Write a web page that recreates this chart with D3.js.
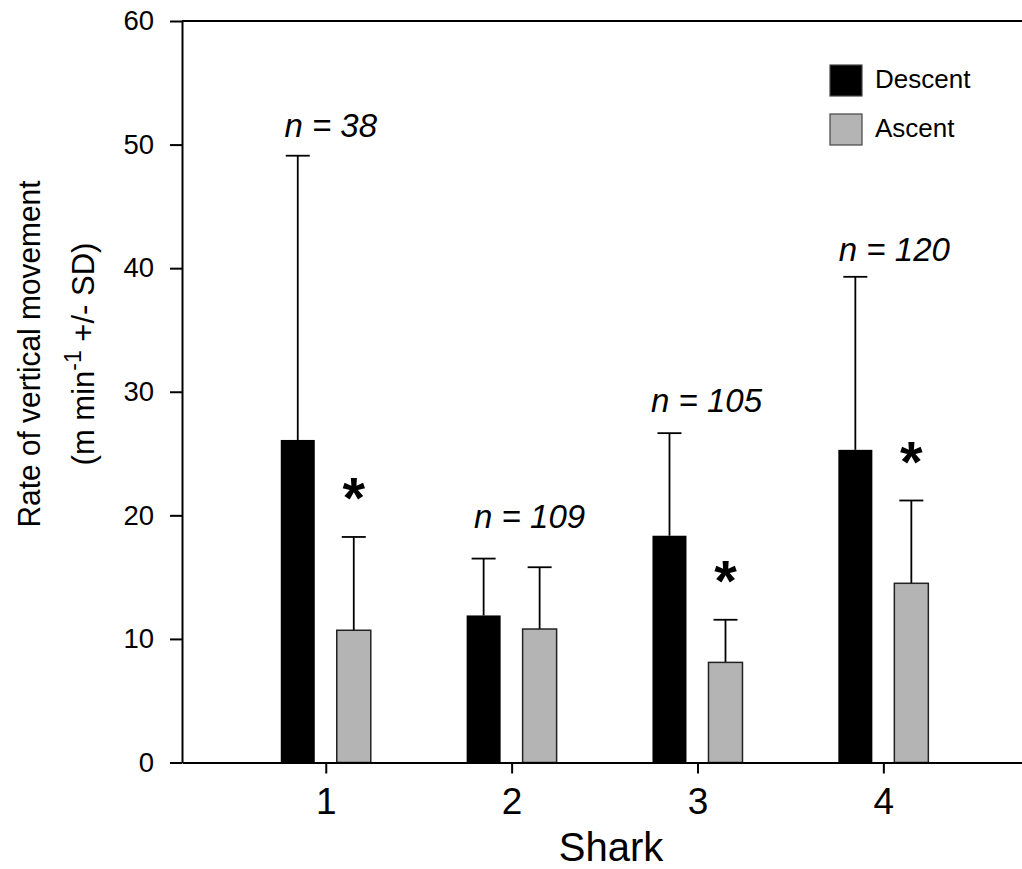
<!DOCTYPE html>
<html>
<head>
<meta charset="utf-8">
<script src="https://cdn.jsdelivr.net/npm/d3@7"></script>
<style>
  html, body { margin: 0; padding: 0; background: #fff; }
  svg { display: block; font-family: "Liberation Sans", Arial, Helvetica, sans-serif; }
</style>
</head>
<body>
<svg id="chart" width="1022" height="869"></svg>
<script>
// ---- data ----
const sharks = [1, 2, 3, 4];
const descentMean = [26.1, 11.9, 18.35, 25.3];
const descentSD   = [23.0, 4.6, 8.3, 14.0];
const ascentMean  = [10.7, 10.8, 8.1, 14.5];
const ascentSD    = [7.55, 5.0, 3.45, 6.7];
const sampleN     = [38, 109, 105, 120];
const nLabelValue = [50.6, 18.95, 28.4, 40.6];
const significant = [true, false, true, true];
const yTicks = [0, 10, 20, 30, 40, 50, 60];
const seriesNames = ["Descent", "Ascent"];

// ---- layout ----
const svg = d3.select("#chart");
const plotLeft = 182, plotRight = 1022, plotTop = 21, plotBottom = 762.5;
const x = d3.scaleLinear().domain([0.2265, 4.746]).range([plotLeft, plotRight]);
const y = d3.scaleLinear().domain([0, 60]).range([plotBottom, plotTop]);
const barW = 34, barOff = 28;
const capHalf = 12;
const nLabelDx = [5, 18, 9, 11];
const colors = { Descent: "#000000", Ascent: "#b4b4b4" };

const rows = sharks.map((s, i) => ({
  shark: s,
  vals: [
    { key: "Descent", mean: descentMean[i], sd: descentSD[i], dx: -barOff },
    { key: "Ascent",  mean: ascentMean[i],  sd: ascentSD[i],  dx: barOff }
  ],
  n: sampleN[i], nv: nLabelValue[i], sig: significant[i], ndx: nLabelDx[i]
}));

// error bars (draw first, bars on top)
const g = svg.append("g");
rows.forEach(r => {
  r.vals.forEach(v => {
    const cx = x(r.shark) + v.dx;
    g.append("line").attr("x1", cx).attr("x2", cx)
      .attr("y1", y(v.mean)).attr("y2", y(v.mean + v.sd))
      .attr("stroke", "#000").attr("stroke-width", 1.8);
    g.append("line").attr("x1", cx - capHalf).attr("x2", cx + capHalf)
      .attr("y1", y(v.mean + v.sd)).attr("y2", y(v.mean + v.sd))
      .attr("stroke", "#000").attr("stroke-width", 1.8);
  });
});

// bars
rows.forEach(r => {
  r.vals.forEach(v => {
    const cx = x(r.shark) + v.dx;
    g.append("rect")
      .attr("x", cx - barW / 2).attr("width", barW)
      .attr("y", y(v.mean)).attr("height", y(0) - y(v.mean))
      .attr("fill", colors[v.key])
      .attr("stroke", v.key === "Ascent" ? "#222" : "#000")
      .attr("stroke-width", v.key === "Ascent" ? 1.5 : 0);
  });
});

// n labels
rows.forEach(r => {
  const t = svg.append("text")
    .attr("x", x(r.shark) + r.ndx).attr("y", y(r.nv))
    .attr("text-anchor", "middle")
    .attr("font-size", 33).attr("font-style", "italic");
  t.append("tspan").text("n");
  t.append("tspan").text(" = " + r.n);
});

// significance stars above ascent error bar
rows.filter(r => r.sig).forEach(r => {
  const v = r.vals[1];
  svg.append("text")
    .attr("x", x(r.shark) + v.dx).attr("y", y(v.mean + v.sd + 4.1))
    .attr("text-anchor", "middle").attr("dy", "0.55em")
    .attr("font-size", 58).attr("font-weight", "bold")
    .text("*");
});

// axes
const yAxis = d3.axisLeft(y).tickValues(yTicks).tickSize(12).tickPadding(16).tickSizeOuter(0);
const yg = svg.append("g").attr("transform", `translate(${plotLeft},0)`).call(yAxis);
yg.select(".domain").attr("stroke-width", 2);
yg.selectAll(".tick line").attr("stroke-width", 2);
yg.selectAll(".tick text").attr("font-size", 27.5).attr("font-family", "Liberation Sans, Arial, sans-serif");

const xAxis = d3.axisBottom(x).tickValues(sharks).tickSize(11).tickPadding(14).tickSizeOuter(0).tickFormat(d3.format("d"));
const xg = svg.append("g").attr("transform", `translate(0,${plotBottom})`).call(xAxis);
xg.select(".domain").attr("stroke-width", 2);
xg.selectAll(".tick line").attr("stroke-width", 2);
xg.selectAll(".tick text").attr("font-size", 37).attr("font-family", "Liberation Sans, Arial, sans-serif");

// top frame line
svg.append("line").attr("x1", plotLeft).attr("x2", plotRight).attr("y1", y(60)).attr("y2", y(60))
  .attr("stroke", "#000").attr("stroke-width", 2);

// axis titles
svg.append("text").attr("x", 611).attr("y", 861).attr("text-anchor", "middle")
  .attr("font-size", 40).text("Shark");

const yt = svg.append("g").attr("transform", "translate(0,354) rotate(-90)");
yt.append("text").attr("x", 0).attr("y", 40).attr("text-anchor", "middle")
  .attr("font-size", 32).attr("textLength", 347).attr("lengthAdjust", "spacingAndGlyphs")
  .text("Rate of vertical movement");
const yt2 = yt.append("text").attr("x", 0).attr("y", 94).attr("text-anchor", "middle").attr("font-size", 31);
yt2.append("tspan").text("(m min");
yt2.append("tspan").attr("dy", -13).attr("font-size", 23).text("-1");
yt2.append("tspan").attr("dy", 13).text(" +/- SD)");

// legend
const lg = svg.append("g");
seriesNames.forEach((name, i) => {
  const yy = 65 + i * 49;
  lg.append("rect").attr("x", 830).attr("y", yy).attr("width", 32).attr("height", 31)
    .attr("fill", colors[name]).attr("stroke", "#444").attr("stroke-width", 1.2);
  lg.append("text").attr("x", 875).attr("y", yy + 23).attr("font-size", 26).text(name);
});
</script>
</body>
</html>
